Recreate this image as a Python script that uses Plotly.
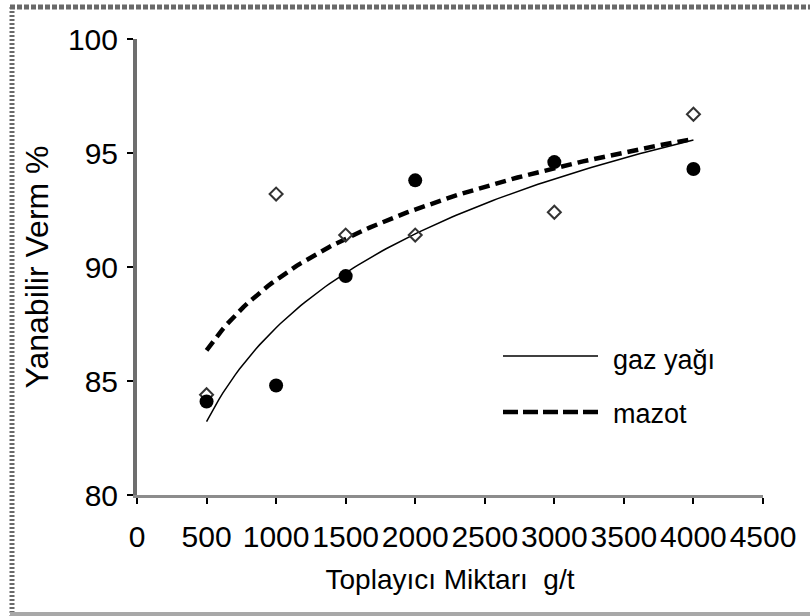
import numpy as np
import plotly.graph_objects as go

# ---- data ----
miktar = [500, 1000, 1500, 2000, 3000, 4000]          # Toplayıcı Miktarı g/t
gaz_yagi = [84.1, 84.8, 89.6, 93.8, 94.6, 94.3]       # filled circles
mazot = [84.4, 93.2, 91.4, 91.4, 92.4, 96.7]          # open diamonds
x_ticks = [0, 500, 1000, 1500, 2000, 2500, 3000, 3500, 4000, 4500]
y_ticks = [80, 85, 90, 95, 100]
series_names = ["gaz yağı", "mazot"]

FONT = "Liberation Sans, Arial, sans-serif"
W, H = 810, 616
L, R, T, B = 137, 47, 39, 121
pw, ph = W - L - R, H - T - B


def px_x(p):
    return (p - L) / pw


def px_y(p):
    return (H - B - p) / ph


def log_fit(x, y):
    x = np.asarray(x, float)
    y = np.asarray(y, float)
    a, b = np.polyfit(np.log(x), y, 1)
    xs = np.linspace(x.min(), x.max(), 120)
    return xs, a * np.log(xs) + b


fig = go.Figure()

xs, ys = log_fit(miktar, gaz_yagi)
fig.add_trace(go.Scatter(x=xs, y=ys, mode="lines", name=series_names[0],
                         line=dict(color="black", width=1.5), showlegend=False))
xs2, ys2 = log_fit(miktar, mazot)
fig.add_trace(go.Scatter(x=xs2, y=ys2, mode="lines", name=series_names[1],
                         line=dict(color="black", width=4.5, dash="11px,6px"), showlegend=False))

fig.add_trace(go.Scatter(x=miktar, y=mazot, mode="markers", showlegend=False,
                         marker=dict(symbol="diamond-open", size=10, color="#333333",
                                     line=dict(width=2, color="#333333"))))
fig.add_trace(go.Scatter(x=miktar, y=gaz_yagi, mode="markers", showlegend=False,
                         marker=dict(symbol="circle", size=14, color="black")))

# manual legend (long line samples)
shapes = [
    dict(type="line", xref="paper", yref="paper", x0=px_x(503), x1=px_x(598),
         y0=px_y(356), y1=px_y(356), line=dict(color="black", width=1.5)),
    dict(type="line", xref="paper", yref="paper", x0=px_x(503), x1=px_x(598),
         y0=px_y(412), y1=px_y(412), line=dict(color="black", width=4.5, dash="15px,5px")),
    # outer chart-area border
    dict(type="line", xref="paper", yref="paper", x0=px_x(12), x1=px_x(12),
         y0=px_y(7), y1=px_y(616), line=dict(color="#6a6a6a", width=5, dash="2px,2px")),
    dict(type="line", xref="paper", yref="paper", x0=px_x(10), x1=px_x(812),
         y0=px_y(7), y1=px_y(7), line=dict(color="#6a6a6a", width=5, dash="5px,2px")),
    dict(type="line", xref="paper", yref="paper", x0=px_x(10), x1=px_x(812),
         y0=px_y(614), y1=px_y(614), line=dict(color="#a8a8a8", width=4)),
]
annotations = [
    dict(xref="paper", yref="paper", x=px_x(611), y=px_y(360), text=series_names[0],
         showarrow=False, xanchor="left", yanchor="middle",
         font=dict(family=FONT, size=27, color="black")),
    dict(xref="paper", yref="paper", x=px_x(611), y=px_y(414), text=series_names[1],
         showarrow=False, xanchor="left", yanchor="middle",
         font=dict(family=FONT, size=27, color="black")),
]

fig.update_layout(
    width=W, height=H,
    margin=dict(l=L, r=R, t=T, b=B, autoexpand=False),
    paper_bgcolor="white", plot_bgcolor="white",
    font=dict(family=FONT, size=28, color="black"),
    showlegend=False,
    shapes=shapes,
    annotations=annotations,
)
fig.update_xaxes(
    range=[0, 4500], tickvals=x_ticks, ticktext=[str(v) for v in x_ticks],
    showgrid=False, zeroline=False, showline=True, linecolor="#8c8c8c", linewidth=3,
    ticks="outside", ticklen=6, tickwidth=2, tickcolor="black",
    ticklabelstandoff=7, tickfont=dict(size=30),
    title=dict(text="Toplayıcı Miktarı  g/t", standoff=18, font=dict(size=28)),
)
fig.update_yaxes(
    range=[80, 100], tickvals=y_ticks, ticktext=[str(v) for v in y_ticks],
    showgrid=False, zeroline=False, showline=True, linecolor="#6e6e6e", linewidth=4,
    ticks="outside", ticklen=6, tickwidth=2, tickcolor="black",
    ticklabelstandoff=3, tickfont=dict(size=30),
    title=dict(text="Yanabilir Verm %", standoff=11, font=dict(size=32)),
)

fig.write_html("out.html")
